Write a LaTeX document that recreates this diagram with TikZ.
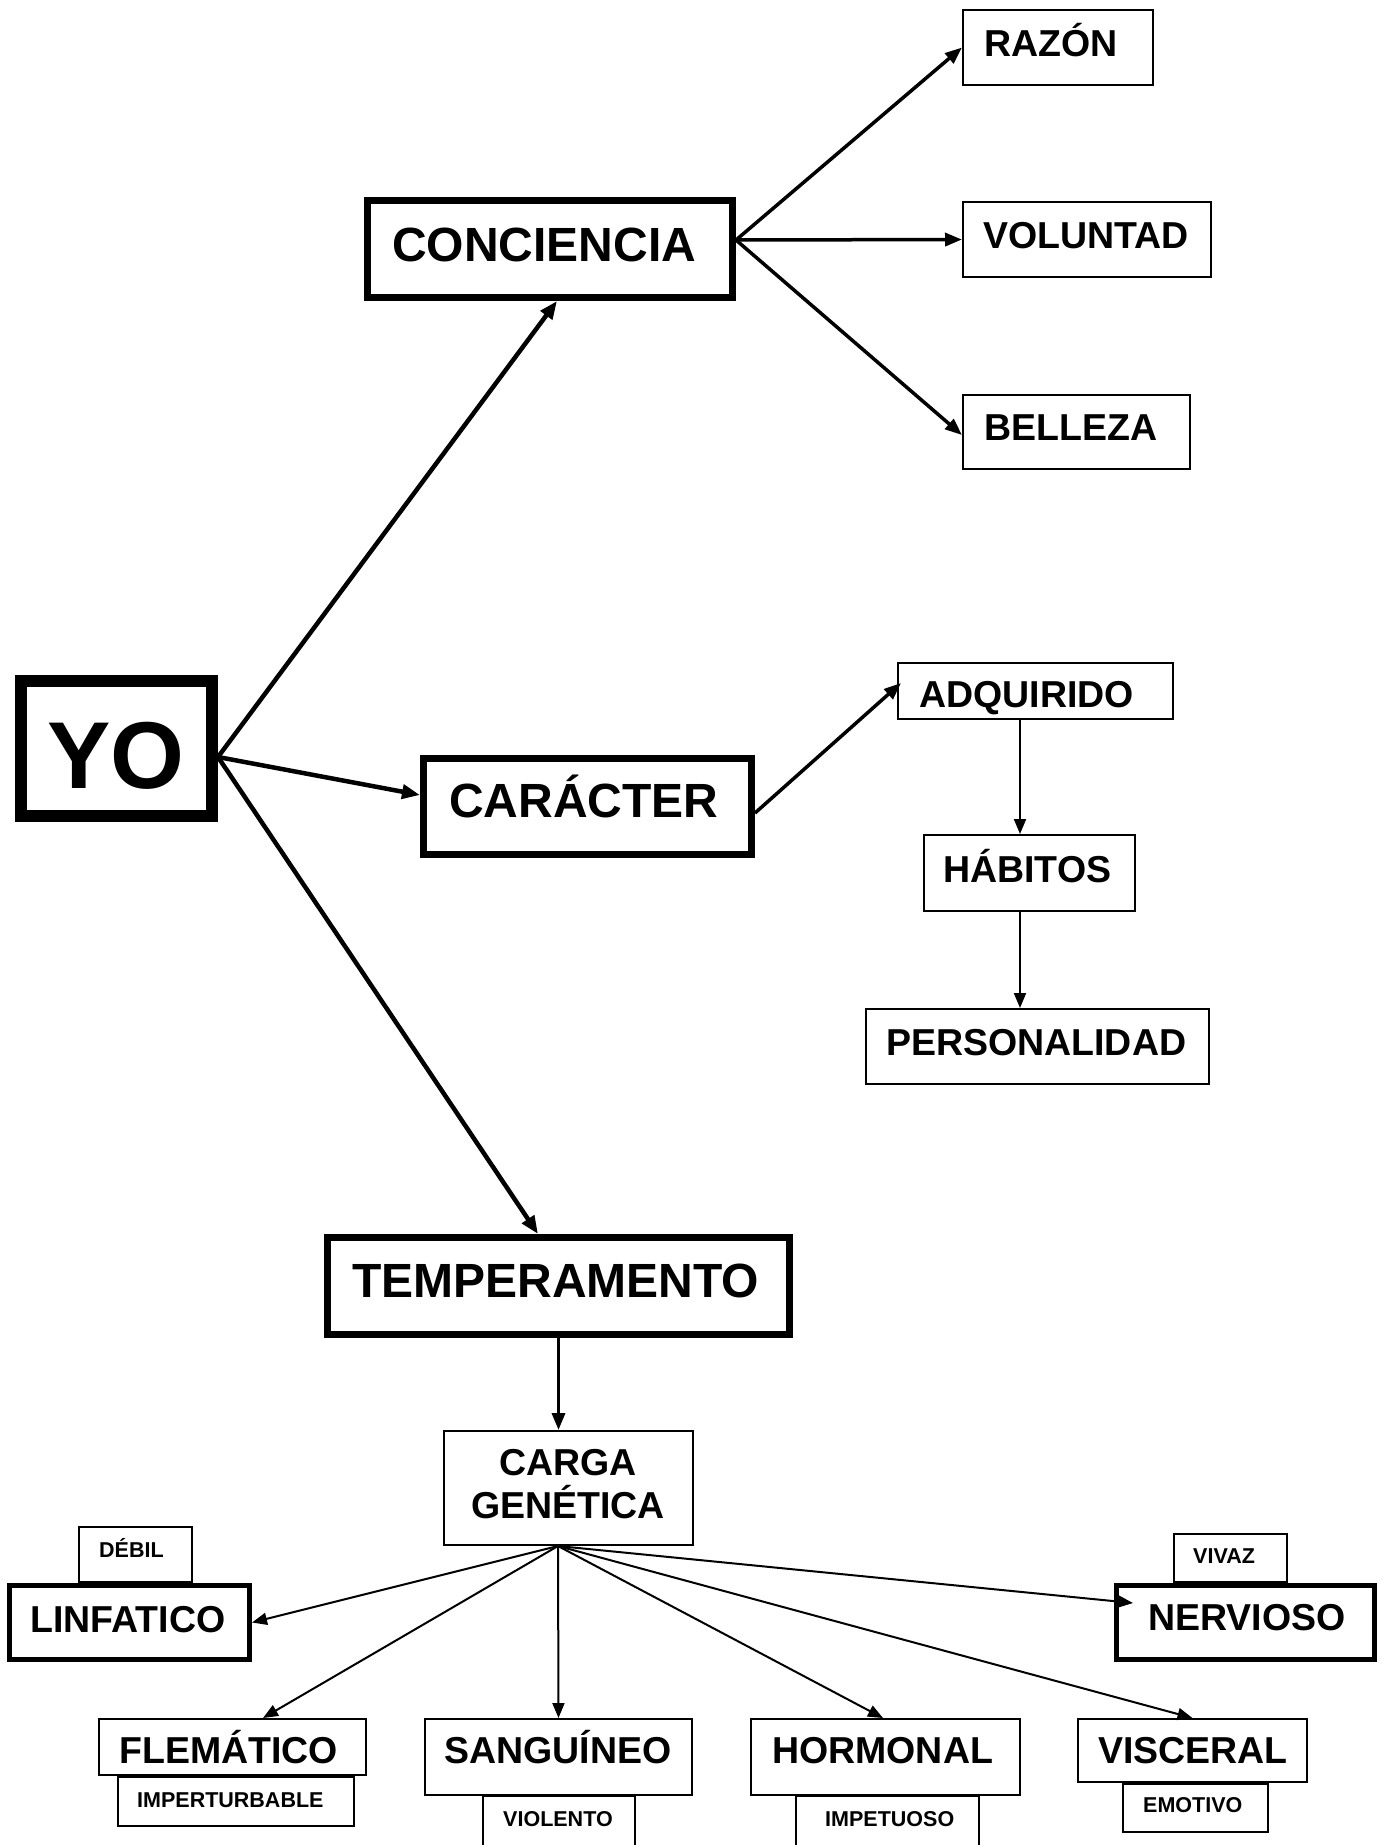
\documentclass[tikz,border=0pt]{standalone}
\usepackage{fontspec}
\setmainfont{Liberation Sans}
\usetikzlibrary{arrows.meta}
\begin{document}
\begin{tikzpicture}[x=1pt,y=-1pt,
  box/.style={draw,fill=white,inner sep=0pt,line width=2pt},
  subbox/.style={box,line width=1.6pt},
  bigbox/.style={box,line width=7pt},
  midbox/.style={box,line width=5pt},
  yobox/.style={box,line width=12pt},
  ttxt/.style={inner sep=0pt,anchor=base west,font=\bfseries\fontsize{21.5}{25}\selectfont},
  mtxt/.style={inner sep=0pt,anchor=base west,font=\bfseries\fontsize{37.5}{43}\selectfont},
  btxt/.style={inner sep=0pt,anchor=base west,font=\bfseries\fontsize{48}{54}\selectfont},
  yotxt/.style={inner sep=0pt,anchor=base,font=\bfseries\fontsize{95}{100}\selectfont},
  arrA/.style={line width=4.5pt,-{Triangle[length=18pt,width=14pt]}},
  arrB/.style={line width=3.5pt,-{Triangle[length=17pt,width=13pt]}},
  arrC/.style={line width=2pt,-{Triangle[length=15pt,width=12pt]}}
]
\useasboundingbox (0,0) rectangle (1383,1845);
\fill[white] (0,0) rectangle (1383,1845);

% ---- boxes ----
\node[yobox,minimum width=191pt,minimum height=135pt] (yo) at (116.5,748.5) {};
\node[bigbox,minimum width=365pt,minimum height=97pt] (conc) at (550,249) {};
\node[box,minimum width=190pt,minimum height=75pt] (razon) at (1058,47.5) {};
\node[box,minimum width=248pt,minimum height=75pt] (vol) at (1087,239.5) {};
\node[box,minimum width=227pt,minimum height=74pt] (bell) at (1076.5,432) {};
\node[bigbox,minimum width=328pt,minimum height=96pt] (car) at (587.5,806.5) {};
\node[box,minimum width=275pt,minimum height=56pt] (adq) at (1035.5,691) {};
\node[box,minimum width=211pt,minimum height=76pt] (hab) at (1029.5,873) {};
\node[box,minimum width=343pt,minimum height=75pt] (pers) at (1037.5,1046.5) {};
\node[bigbox,minimum width=462pt,minimum height=97pt] (temp) at (558.5,1286) {};
\node[box,minimum width=249pt,minimum height=114pt] (carga) at (568.5,1488) {};

\node[subbox,minimum width=113pt,minimum height=55pt] (debil) at (135.5,1554.5) {};
\node[midbox,minimum width=240pt,minimum height=74pt] (linf) at (129.5,1622.5) {};
\node[subbox,minimum width=113pt,minimum height=48pt] (vivaz) at (1230.5,1558) {};
\node[midbox,minimum width=258pt,minimum height=74pt] (nerv) at (1245.5,1622.5) {};

\node[subbox,minimum width=236pt,minimum height=49pt] (imper) at (236,1801.5) {};
\node[box,minimum width=267pt,minimum height=56pt] (flem) at (232.5,1747) {};
\node[subbox,minimum width=152pt,minimum height=74pt] (viol) at (559,1833) {};
\node[box,minimum width=267pt,minimum height=76pt] (sang) at (558.5,1757) {};
\node[subbox,minimum width=183pt,minimum height=74pt] (impet) at (887.5,1833) {};
\node[box,minimum width=269pt,minimum height=76pt] (horm) at (885.5,1757) {};
\node[subbox,minimum width=145pt,minimum height=48pt] (emot) at (1195.5,1808) {};
\node[box,minimum width=229pt,minimum height=63pt] (visc) at (1192.5,1750.5) {};

% ---- texts ----
\node[yotxt] (tyo) at (116,788) {YO};
\node[btxt] (tconc) at (392,261) {CONCIENCIA};
\node[mtxt] (trazon) at (984,56) {RAZÓN};
\node[mtxt] (tvol) at (983,248) {VOLUNTAD};
\node[mtxt] (tbell) at (984,440) {BELLEZA};
\node[btxt] (tcar) at (449,817) {CARÁCTER};
\node[mtxt] (tadq) at (919,707) {ADQUIRIDO};
\node[mtxt] (thab) at (943,882) {HÁBITOS};
\node[mtxt] (tpers) at (886,1055) {PERSONALIDAD};
\node[btxt] (ttemp) at (352,1297) {TEMPERAMENTO};
\node[mtxt,anchor=base] (tcarga1) at (568,1475) {CARGA};
\node[mtxt,anchor=base] (tcarga2) at (568,1518) {GENÉTICA};
\node[ttxt] (tdebil) at (99,1557) {DÉBIL};
\node[mtxt] (tlinf) at (30,1632) {LINFATICO};
\node[ttxt] (tvivaz) at (1193,1563) {VIVAZ};
\node[mtxt] (tnerv) at (1148,1630) {NERVIOSO};
\node[mtxt] (tflem) at (119,1763) {FLEMÁTICO};
\node[ttxt] (timper) at (137,1807) {IMPERTURBABLE};
\node[mtxt] (tsang) at (444,1763) {SANGUÍNEO};
\node[ttxt] (tviol) at (503,1826) {VIOLENTO};
\node[mtxt] (thorm) at (772,1763) {HORMONAL};
\node[ttxt] (timpet) at (825,1826) {IMPETUOSO};
\node[mtxt] (tvisc) at (1098,1763) {VISCERAL};
\node[ttxt] (temot) at (1143,1812) {EMOTIVO};

% ---- connectors ----
\draw[arrA] ([yshift=-8.5pt]yo.east) -- ([xshift=7pt]conc.south);
\draw[arrA] ([yshift=-8.5pt]yo.east) -- ([yshift=11.5pt]car.west);
\draw[arrA] ([yshift=-8.5pt]yo.east) -- ([xshift=-20.5pt]temp.north);

\draw[arrB] ([yshift=9pt]conc.east) -- (razon.west);
\draw[arrB] ([yshift=9pt]conc.east) -- (vol.west);
\draw[arrB] ([yshift=9pt]conc.east) -- ([yshift=-3pt]bell.west);

\draw[arrB] ([yshift=-6.5pt]car.east) -- ([xshift=4pt,yshift=8pt]adq.west);
\draw[arrC] ([xshift=-15.5pt]adq.south) -- ([xshift=-15.5pt]adq.south |- hab.north);
\draw[arrC] ([xshift=-9.5pt]hab.south) -- ([xshift=-9.5pt]hab.south |- pers.north);

\draw[arrB] (temp.south) -- (temp.south |- carga.north);

\coordinate (fan) at ([xshift=-10.5pt]carga.south);
\draw[arrC] (fan) -- (linf.east);
\draw[arrC] (fan) -- ([xshift=30.5pt]flem.north);
\draw[arrC] (fan) -- (sang.north);
\draw[arrC] (fan) -- ([xshift=-2.5pt]horm.north);
\draw[arrC] (fan) -- (visc.north);
\draw[arrC] (fan) -- ([xshift=19pt,yshift=19.5pt]nerv.west);
\end{tikzpicture}
\end{document}
